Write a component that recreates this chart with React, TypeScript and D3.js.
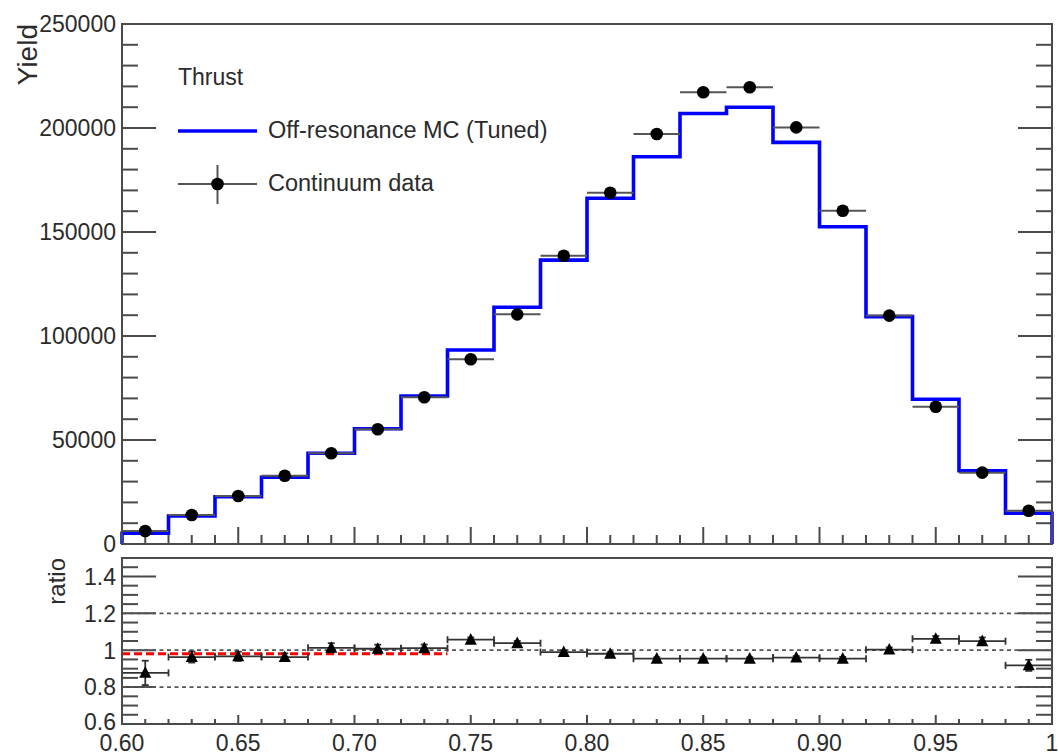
import React from "react";
import * as d3 from "d3";

// Thrust distribution: bins of width 0.02 between 0.60 and 1.00
const binCenters = [0.61, 0.63, 0.65, 0.67, 0.69, 0.71, 0.73, 0.75, 0.77, 0.79, 0.81, 0.83, 0.85, 0.87, 0.89, 0.91, 0.93, 0.95, 0.97, 0.99];
const binHalfWidth = 0.01;

// Off-resonance MC (tuned) histogram contents
const mcYield = [5140, 13460, 22740, 32060, 43600, 55440, 71150, 93270, 113800, 136500, 166200, 186200, 207000, 210000, 193100, 152500, 109300, 69600, 35240, 14760];

// Continuum data
const dataYield = [6250, 13940, 23080, 32840, 43600, 55150, 70530, 88800, 110400, 138600, 168900, 197100, 217200, 219600, 200300, 160200, 109800, 66000, 34300, 16000];

// Ratio panel
const ratioValues = [0.877, 0.963, 0.967, 0.963, 1.013, 1.008, 1.011, 1.057, 1.038, 0.99, 0.981, 0.954, 0.954, 0.954, 0.96, 0.954, 1.003, 1.062, 1.049, 0.918];
const ratioErrors = [0.066, 0.03, 0.025, 0.02, 0.025, 0.022, 0.02, 0.012, 0.012, 0.01, 0.008, 0.008, 0.008, 0.008, 0.008, 0.01, 0.012, 0.015, 0.02, 0.03];

// Constant fit over the low-thrust region
const fitRange = [0.6, 0.74];
const fitValue = 0.981;

// Axis ticks and labels
const xMajorTicks = [0.6, 0.65, 0.7, 0.75, 0.8, 0.85, 0.9, 0.95, 1.0];
const xTickLabels = ["0.60", "0.65", "0.70", "0.75", "0.80", "0.85", "0.90", "0.95", "1"];
const yieldTicks = [0, 50000, 100000, 150000, 200000, 250000];
const ratioTicks = [0.6, 0.8, 1.0, 1.2, 1.4];
const ratioTickLabels = ["0.6", "0.8", "1", "1.2", "1.4"];
const ratioGuides = [0.8, 1.0, 1.2];

const FONT = "'Liberation Sans', Arial, Helvetica, sans-serif";
const TEXT = "#2b2b2b";
const AXIS = "#4a4a4a";

export default function App() {
  const W = 1059;
  const H = 756;
  const left = 122;
  const right = 1052;
  const topY0 = 24;
  const topY1 = 544;
  const botY0 = 558;
  const botY1 = 724;

  const x = d3.scaleLinear().domain([0.6, 1.0]).range([left, right]);
  const yTop = d3.scaleLinear().domain([0, 250000]).range([topY1, topY0]);
  const yBot = d3.scaleLinear().domain([0.6, 1.5]).range([botY1, botY0]);

  // Histogram outline: step through bin low edges, dropping to zero at both ends
  const histPts: [number, number][] = [[0.6, 0]];
  binCenters.forEach((c, i) => histPts.push([c - binHalfWidth, mcYield[i]]));
  histPts.push([1.0, mcYield[mcYield.length - 1]]);
  histPts.push([1.0, 0]);
  const histPath = d3
    .line<[number, number]>()
    .x((d) => x(d[0]))
    .y((d) => yTop(d[1]))
    .curve(d3.curveStepAfter)(histPts) as string;

  const xMinor = d3.range(0, 41).map((i) => 0.6 + i * 0.01);
  const yieldMinor = d3.range(0, 26).map((i) => i * 10000);
  const ratioMinor = d3.range(0, 19).map((i) => 0.6 + i * 0.05);

  const tri = (cx: number, cy: number, s: number) =>
    `M${cx},${cy - s * 0.6} L${cx + s * 0.55},${cy + s * 0.45} L${cx - s * 0.55},${cy + s * 0.45} Z`;

  return (
    <svg width={W} height={H} style={{ position: "absolute", left: 0, top: 0, background: "#fff" }} fontFamily={FONT}>
      <rect x={0} y={0} width={W} height={H} fill="#fff" />

      {/* ---------- upper panel ---------- */}
      {/* y ticks, both sides */}
      {yieldMinor.map((v) => {
        const major = v % 50000 === 0;
        const len = major ? 34 : 16;
        return (
          <g key={"yt" + v} stroke={AXIS} strokeWidth={2}>
            <line x1={left} x2={left + len} y1={yTop(v)} y2={yTop(v)} />
            <line x1={right} x2={right - len} y1={yTop(v)} y2={yTop(v)} />
          </g>
        );
      })}
      {/* x ticks on the bottom edge */}
      {xMinor.map((v, i) => {
        const major = i % 5 === 0;
        const len = major ? 17 : 9;
        return <line key={"xt" + i} x1={x(v)} x2={x(v)} y1={topY1} y2={topY1 - len} stroke={AXIS} strokeWidth={2} />;
      })}
      {yieldTicks.map((v) => (
        <text key={"yl" + v} x={116} y={yTop(v)} dy="0.36em" textAnchor="end" fontSize={23} fill={TEXT}>
          {v}
        </text>
      ))}
      <text transform={`translate(37,${topY0}) rotate(-90)`} textAnchor="end" fontSize={28} fill={TEXT}>
        Yield
      </text>

      {/* MC histogram */}
      <path d={histPath} fill="none" stroke="#0000ff" strokeWidth={3.6} strokeLinejoin="miter" />

      {/* data points with bin-width error bars */}
      {binCenters.map((c, i) => (
        <g key={"dp" + i}>
          <line
            x1={x(c - binHalfWidth)}
            x2={x(c + binHalfWidth)}
            y1={yTop(dataYield[i])}
            y2={yTop(dataYield[i])}
            stroke="#555"
            strokeWidth={2}
          />
          <circle cx={x(c)} cy={yTop(dataYield[i])} r={6.3} fill="#000" />
        </g>
      ))}

      <rect x={left} y={topY0} width={right - left} height={topY1 - topY0} fill="none" stroke={AXIS} strokeWidth={2} />

      {/* legend */}
      <text x={178} y={85} fontSize={23} fill={TEXT}>
        Thrust
      </text>
      <line x1={178} x2={257} y1={131} y2={131} stroke="#0000ff" strokeWidth={3.6} />
      <text x={268} y={138} fontSize={23.5} fill={TEXT}>
        Off-resonance MC (Tuned)
      </text>
      <line x1={178} x2={257} y1={184} y2={184} stroke="#555" strokeWidth={2} />
      <line x1={217.5} x2={217.5} y1={165} y2={204} stroke="#555" strokeWidth={2} />
      <circle cx={217.5} cy={184} r={6.3} fill="#000" />
      <text x={268} y={191} fontSize={23.5} fill={TEXT}>
        Continuum data
      </text>

      {/* ---------- ratio panel ---------- */}
      {ratioMinor.map((v, i) => {
        const major = i % 4 === 0;
        const len = major ? 34 : 16;
        return (
          <g key={"rt" + i} stroke={AXIS} strokeWidth={2}>
            <line x1={left} x2={left + len} y1={yBot(v)} y2={yBot(v)} />
            <line x1={right} x2={right - len} y1={yBot(v)} y2={yBot(v)} />
          </g>
        );
      })}
      {xMinor.map((v, i) => {
        const major = i % 5 === 0;
        const len = major ? 9 : 5;
        return <line key={"bx" + i} x1={x(v)} x2={x(v)} y1={botY1} y2={botY1 - len} stroke={AXIS} strokeWidth={2} />;
      })}
      {ratioGuides.map((v) => (
        <line
          key={"g" + v}
          x1={left}
          x2={right}
          y1={yBot(v)}
          y2={yBot(v)}
          stroke="#555"
          strokeWidth={1.8}
          strokeDasharray="4 3.5"
        />
      ))}
      <line
        x1={x(fitRange[0])}
        x2={x(fitRange[1])}
        y1={yBot(fitValue)}
        y2={yBot(fitValue)}
        stroke="#ff0000"
        strokeWidth={3.2}
        strokeDasharray="8 4"
      />
      {binCenters.map((c, i) => {
        const cy = yBot(ratioValues[i]);
        const x0 = x(c - binHalfWidth);
        const x1 = x(c + binHalfWidth);
        const yHi = yBot(ratioValues[i] + ratioErrors[i]);
        const yLo = yBot(ratioValues[i] - ratioErrors[i]);
        return (
          <g key={"rp" + i} stroke="#333" strokeWidth={1.8}>
            <line x1={x0} x2={x1} y1={cy} y2={cy} />
            <line x1={x0} x2={x0} y1={cy - 3.5} y2={cy + 3.5} />
            <line x1={x1} x2={x1} y1={cy - 3.5} y2={cy + 3.5} />
            <line x1={x(c)} x2={x(c)} y1={yHi} y2={yLo} />
            <line x1={x(c) - 3.5} x2={x(c) + 3.5} y1={yHi} y2={yHi} />
            <line x1={x(c) - 3.5} x2={x(c) + 3.5} y1={yLo} y2={yLo} />
            <path d={tri(x(c), cy, 11)} fill="#000" stroke="none" />
          </g>
        );
      })}
      <rect x={left} y={botY0} width={right - left} height={botY1 - botY0} fill="none" stroke={AXIS} strokeWidth={2} />
      {ratioTicks.map((v, i) => (
        <text
          key={"rl" + v}
          x={116}
          y={yBot(v)}
          dy={i === 0 ? "0.26em" : "0.36em"}
          textAnchor="end"
          fontSize={23}
          fill={TEXT}
        >
          {ratioTickLabels[i]}
        </text>
      ))}
      <text transform={`translate(65,${botY0}) rotate(-90)`} textAnchor="end" fontSize={24} fill={TEXT}>
        ratio
      </text>
      {xMajorTicks.map((v, i) => (
        <text key={"xl" + i} x={x(v)} y={751} textAnchor="middle" fontSize={23} fill={TEXT}>
          {xTickLabels[i]}
        </text>
      ))}
    </svg>
  );
}
